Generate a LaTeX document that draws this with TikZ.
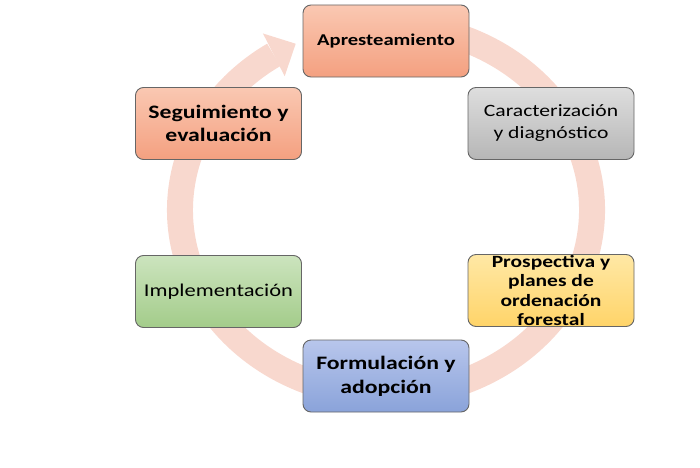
\documentclass[tikz,border=0pt]{standalone}
\usepackage{fontspec}
\setmainfont{Carlito}[FakeStretch=1.25]
\usetikzlibrary{calc}
\begin{document}
\begin{tikzpicture}[x=1pt,y=1pt,
  stage/.style={draw=black!60, line width=0.9pt, rounded corners=8pt,
    minimum width=166pt, minimum height=72pt, inner sep=0pt, align=center},
  ring/.style={draw=ringc, line width=26pt}]
\definecolor{ringc}{RGB}{248,216,206}
\definecolor{salT}{RGB}{250,200,178}
\definecolor{salB}{RGB}{244,160,128}
\definecolor{gryT}{RGB}{222,222,222}
\definecolor{gryB}{RGB}{182,182,182}
\definecolor{grnT}{RGB}{204,228,190}
\definecolor{grnB}{RGB}{163,204,138}
\definecolor{yelT}{RGB}{255,232,165}
\definecolor{yelB}{RGB}{255,212,105}
\definecolor{bluT}{RGB}{184,198,236}
\definecolor{bluB}{RGB}{138,163,218}
\useasboundingbox (0,0) rectangle (700,467);
% ring
\coordinate (c) at (386,257);
\draw[ring] ($(c)+(80:206pt and 185pt)$) coordinate (rs)
  arc[start angle=80, end angle=-237, x radius=206pt, y radius=185pt] coordinate (re);
\path (c) ++(116:206pt and 185pt) coordinate (tip);
\path (c) ++(123:206pt and 185pt) coordinate (hb);
\fill[ringc] (tip) -- ($(hb)!24pt!90:(tip)$) coordinate (h1) -- ($(hb)!24pt!-90:(tip)$) coordinate (h2) -- cycle;
% stages
\node[stage, top color=salT, bottom color=salB, font=\fontsize{16.5}{21}\selectfont\bfseries] (apr) at (386,426) {Apresteamiento};
\node[stage, top color=gryT, bottom color=gryB, font=\fontsize{17.3}{22}\selectfont] (car) at (551,343.5) {Caracterización\\y diagnóstico};
\node[stage, top color=yelT, bottom color=yelB, font=\fontsize{17.2}{19.5}\selectfont\bfseries] (pro) at (551,176.5) {Prospectiva y\\planes de\\ordenación\\forestal};
\node[stage, top color=bluT, bottom color=bluB, font=\fontsize{19}{24}\selectfont\bfseries] (for) at (386,91) {Formulación y\\adopción};
\node[stage, top color=grnT, bottom color=grnB, font=\fontsize{18}{22}\selectfont] (imp) at (218.5,175.5) {Implementación};
\node[stage, top color=salT, bottom color=salB, font=\fontsize{19}{23}\selectfont\bfseries] (seg) at (218.5,343.5) {Seguimiento y\\evaluación};
\end{tikzpicture}
\end{document}
